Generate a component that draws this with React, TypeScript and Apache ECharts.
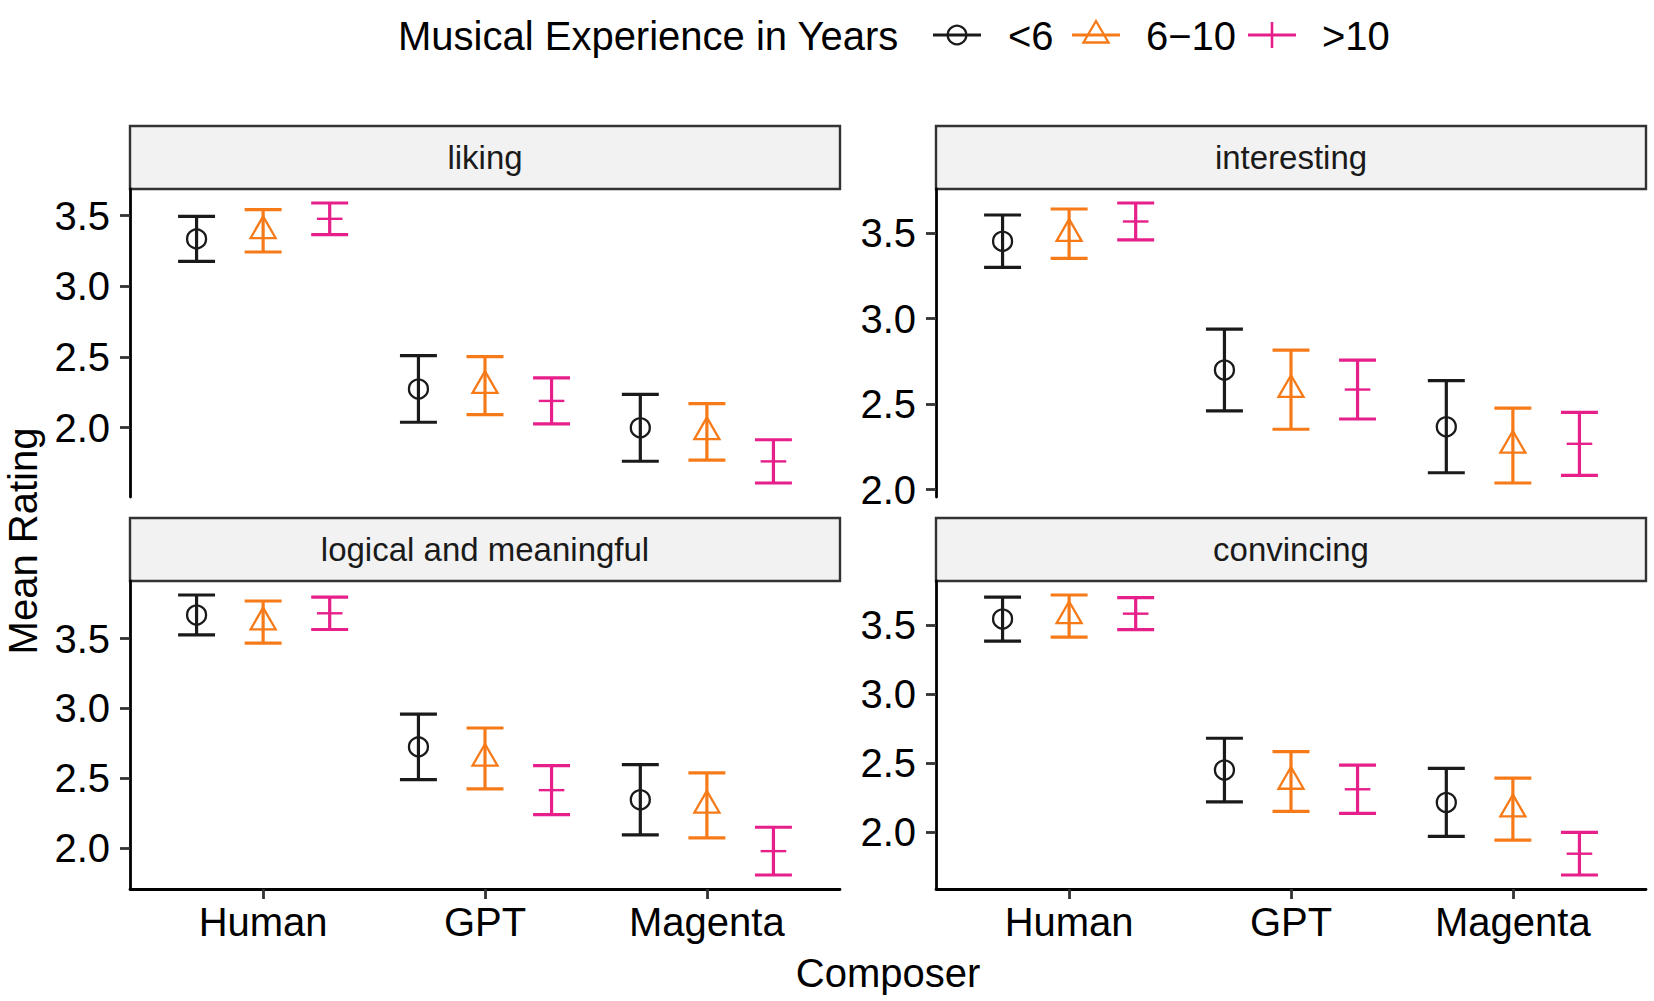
import React, { useEffect, useRef } from "react";
import * as echarts from "echarts";

// ---------- data ----------
const composers = ["Human", "GPT", "Magenta"];
const groups = ["<6", "6−10", ">10"];
const facets = ["liking", "interesting", "logical and meaningful", "convincing"];
const yTicks = [2.0, 2.5, 3.0, 3.5];

// mean rating, rows = experience group, cols = composer
const likingMean = [
  [3.336, 2.274, 1.999],
  [3.393, 2.297, 1.97],
  [3.478, 2.189, 1.761],
];
const likingErr = [
  [0.159, 0.236, 0.237],
  [0.15, 0.205, 0.2],
  [0.112, 0.163, 0.153],
];
const interestingMean = [
  [3.452, 2.699, 2.368],
  [3.496, 2.584, 2.258],
  [3.567, 2.585, 2.268],
];
const interestingErr = [
  [0.153, 0.239, 0.269],
  [0.144, 0.231, 0.219],
  [0.108, 0.172, 0.184],
];
const logicalMean = [
  [3.669, 2.724, 2.345],
  [3.618, 2.641, 2.305],
  [3.681, 2.414, 1.977],
];
const logicalErr = [
  [0.143, 0.234, 0.252],
  [0.151, 0.218, 0.233],
  [0.116, 0.175, 0.171],
];
const convincingMean = [
  [3.543, 2.451, 2.217],
  [3.565, 2.368, 2.168],
  [3.582, 2.312, 1.846],
];
const convincingErr = [
  [0.159, 0.23, 0.246],
  [0.152, 0.216, 0.224],
  [0.116, 0.175, 0.154],
];

const facetMeans = [likingMean, interestingMean, logicalMean, convincingMean];
const facetErrs = [likingErr, interestingErr, logicalErr, convincingErr];

// ---------- style / layout ----------
const colors = ["#1a1a1a", "#F77A19", "#E71F8B"];
const FONT = "'Liberation Sans', Arial, Helvetica, sans-serif";
const panelW = 710;
const panelH = 308;
const stripH = 63;
const gridPos = [
  { left: 130, top: 189 },
  { left: 936, top: 189 },
  { left: 130, top: 581 },
  { left: 936, top: 581 },
];
const dodge = 0.3;
const capHalf = 0.0833;

function buildOption() {
  const grid = gridPos.map((p) => ({
    left: p.left,
    top: p.top,
    width: panelW,
    height: panelH,
    containLabel: false,
  }));

  const xAxis = gridPos.map((p, i) => {
    const bottom = i >= 2;
    return {
      type: "value",
      gridIndex: i,
      min: 0.4,
      max: 3.6,
      show: bottom,
      splitLine: { show: false },
      axisLine: { show: bottom, lineStyle: { color: "#000", width: 2.8 } },
      axisTick: {
        show: bottom,
        customValues: [1, 2, 3],
        length: 10,
        lineStyle: { color: "#333", width: 2.8 },
      },
      axisLabel: {
        show: bottom,
        customValues: [1, 2, 3],
        formatter: (v: number) => composers[Math.round(v) - 1] || "",
        fontFamily: FONT,
        fontSize: 40,
        color: "#000",
        margin: 13,
      },
    };
  });

  const yAxis = facets.map((f, i) => {
    const m = facetMeans[i];
    const e = facetErrs[i];
    let lo = Infinity;
    let hi = -Infinity;
    m.forEach((row, g) =>
      row.forEach((v, c) => {
        lo = Math.min(lo, v - e[g][c]);
        hi = Math.max(hi, v + e[g][c]);
      })
    );
    const pad = (hi - lo) * 0.05;
    return {
      type: "value",
      gridIndex: i,
      min: lo - pad,
      max: hi + pad,
      splitLine: { show: false },
      axisLine: { show: true, lineStyle: { color: "#000", width: 2.8 } },
      axisTick: {
        show: true,
        customValues: yTicks,
        length: 10,
        lineStyle: { color: "#333", width: 2.8 },
      },
      axisLabel: {
        show: true,
        customValues: yTicks,
        formatter: (v: number) => v.toFixed(1),
        fontFamily: FONT,
        fontSize: 40,
        color: "#000",
        margin: 20,
      },
    };
  });

  const series: any[] = [];
  facets.forEach((f, i) => {
    groups.forEach((gName, g) => {
      const color = colors[g];
      const data = composers.map((c, ci) => [
        ci + 1 + (g - 1) * dodge,
        facetMeans[i][g][ci],
        facetErrs[i][g][ci],
      ]);
      series.push({
        type: "custom",
        name: gName,
        xAxisIndex: i,
        yAxisIndex: i,
        clip: false,
        data,
        renderItem: (params: any, api: any) => {
          const x = api.value(0);
          const m = api.value(1);
          const h = api.value(2);
          const top = api.coord([x, m + h]);
          const bot = api.coord([x, m - h]);
          const mid = api.coord([x, m]);
          const cw = api.size([capHalf, 0])[0];
          const ls = { stroke: color, lineWidth: 3.2, fill: "none" };
          const children: any[] = [
            { type: "line", shape: { x1: top[0], y1: top[1], x2: bot[0], y2: bot[1] }, style: ls },
            { type: "line", shape: { x1: top[0] - cw, y1: top[1], x2: top[0] + cw, y2: top[1] }, style: ls },
            { type: "line", shape: { x1: bot[0] - cw, y1: bot[1], x2: bot[0] + cw, y2: bot[1] }, style: ls },
          ];
          const ms = { stroke: color, lineWidth: 2.3, fill: "none" };
          if (g === 0) {
            children.push({ type: "circle", shape: { cx: mid[0], cy: mid[1], r: 9.5 }, style: ms });
          } else if (g === 1) {
            children.push({
              type: "polygon",
              shape: {
                points: [
                  [mid[0], mid[1] - 14.5],
                  [mid[0] + 12.5, mid[1] + 7.2],
                  [mid[0] - 12.5, mid[1] + 7.2],
                ],
              },
              style: ms,
            });
          } else {
            children.push({
              type: "line",
              shape: { x1: mid[0] - 12.8, y1: mid[1], x2: mid[0] + 12.8, y2: mid[1] },
              style: { stroke: color, lineWidth: 2.4 },
            });
          }
          return { type: "group", children };
        },
      });
    });
  });

  const graphic: any[] = [];
  // strips
  gridPos.forEach((p, i) => {
    graphic.push({
      type: "rect",
      shape: { x: p.left, y: p.top - stripH, width: panelW, height: stripH },
      style: { fill: "#F2F2F2", stroke: "#333", lineWidth: 2.4 },
      silent: true,
    });
    graphic.push({
      type: "text",
      x: p.left + panelW / 2,
      y: p.top - stripH / 2,
      style: {
        text: facets[i],
        fontFamily: FONT,
        fontSize: 33,
        fill: "#1a1a1a",
        align: "center",
        verticalAlign: "middle",
      },
    });
  });
  // axis titles
  graphic.push({
    type: "text",
    x: 888,
    y: 973,
    style: { text: "Composer", fontFamily: FONT, fontSize: 40, fill: "#000", align: "center", verticalAlign: "middle" },
  });
  graphic.push({
    type: "text",
    x: 23,
    y: 541,
    rotation: Math.PI / 2,
    style: { text: "Mean Rating", fontFamily: FONT, fontSize: 40, fill: "#000", align: "center", verticalAlign: "middle" },
  });
  // legend
  const ly = 35;
  graphic.push({
    type: "text",
    x: 398,
    y: ly + 1,
    style: { text: "Musical Experience in Years", fontFamily: FONT, fontSize: 40, fill: "#000", align: "left", verticalAlign: "middle" },
  });
  const keyX = [933, 1072, 1248];
  const labX = [1008, 1146, 1322];
  groups.forEach((gName, g) => {
    const color = colors[g];
    const cx = keyX[g] + 24;
    graphic.push({
      type: "line",
      shape: { x1: keyX[g], y1: ly, x2: keyX[g] + 48, y2: ly },
      style: { stroke: color, lineWidth: 3.2 },
    });
    if (g === 0) {
      graphic.push({ type: "circle", shape: { cx, cy: ly, r: 9.3 }, style: { stroke: color, lineWidth: 2.3, fill: "none" } });
    } else if (g === 1) {
      graphic.push({
        type: "polygon",
        shape: { points: [[cx, ly - 14], [cx + 12.5, ly + 7.5], [cx - 12.5, ly + 7.5]] },
        style: { stroke: color, lineWidth: 2.3, fill: "none" },
      });
    } else {
      graphic.push({
        type: "line",
        shape: { x1: cx, y1: ly - 13, x2: cx, y2: ly + 13 },
        style: { stroke: color, lineWidth: 2.6 },
      });
    }
    graphic.push({
      type: "text",
      x: labX[g],
      y: ly + 1,
      style: { text: gName, fontFamily: FONT, fontSize: 40, fill: "#000", align: "left", verticalAlign: "middle" },
    });
  });

  return {
    animation: false,
    backgroundColor: "#ffffff",
    grid,
    xAxis,
    yAxis,
    series,
    graphic,
  };
}

export default function App() {
  const ref = useRef<HTMLDivElement>(null);
  useEffect(() => {
    if (!ref.current) return;
    const chart = echarts.init(ref.current, null, { renderer: "svg" });
    chart.setOption(buildOption() as any);
    return () => chart.dispose();
  }, []);
  return (
    <div
      ref={ref}
      style={{ position: "absolute", left: 0, top: 0, width: 1654, height: 1001, background: "#fff" }}
    />
  );
}
